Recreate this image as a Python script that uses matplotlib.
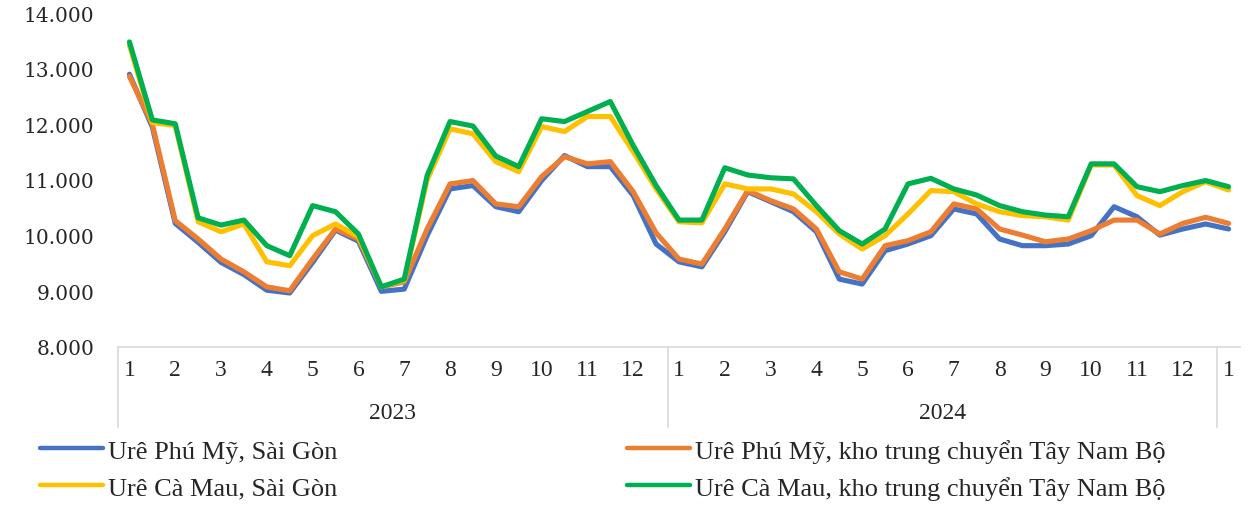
import numpy as np
import matplotlib
matplotlib.use("Agg")
import matplotlib.pyplot as plt
import matplotlib.transforms as mtransforms
from matplotlib.ticker import FuncFormatter

# gia ure (dong/kg), 2 ky moi thang, 1/2023 -> 1/2025
pm_sg = [12900, 11950, 10220, 9880, 9520, 9300, 9020, 8970, 9520, 10100,
         9900, 9000, 9040, 10000, 10840, 10900, 10520, 10430, 10990, 11440,
         11240, 11240, 10720, 9850, 9530, 9440, 10070, 10790, 10610, 10430,
         10070, 9220, 9130, 9730, 9850, 10000, 10480, 10390, 9940, 9820,
         9820, 9850, 10000, 10520, 10340, 10010, 10120, 10210, 10120]
pm_tnb = [12860, 12000, 10270, 9940, 9580, 9350, 9080, 9010, 9580, 10120,
          9940, 9080, 9170, 10120, 10930, 10990, 10570, 10520, 11060, 11420,
          11290, 11330, 10790, 10050, 9580, 9490, 10120, 10810, 10630, 10480,
          10120, 9350, 9220, 9820, 9910, 10070, 10570, 10480, 10120, 10010,
          9890, 9940, 10090, 10280, 10280, 10030, 10220, 10330, 10220]
cm_sg = [13420, 12030, 11980, 10250, 10070, 10210, 9530, 9460, 10000, 10210,
         9980, 9080, 9200, 11000, 11920, 11830, 11330, 11150, 11960, 11870,
         12140, 12140, 11510, 10840, 10250, 10230, 10930, 10840, 10840, 10750,
         10430, 10030, 9760, 10000, 10390, 10810, 10790, 10570, 10430, 10360,
         10340, 10280, 11270, 11270, 10720, 10540, 10790, 10970, 10820]
cm_tnb = [13480, 12080, 12010, 10320, 10190, 10280, 9820, 9640, 10540, 10430,
          10030, 9080, 9220, 11080, 12050, 11970, 11430, 11240, 12100, 12050,
          12230, 12410, 11620, 10900, 10280, 10280, 11220, 11090, 11040, 11020,
          10540, 10090, 9850, 10120, 10930, 11030, 10840, 10730, 10540, 10430,
          10370, 10340, 11290, 11290, 10880, 10790, 10900, 10990, 10880]

months = [str(m) for m in range(1, 13)] * 2 + ["1"]
years = ["2023", "2024"]

names = ["Urê Phú Mỹ, Sài Gòn",
         "Urê Phú Mỹ, kho trung chuyển Tây Nam Bộ",
         "Urê Cà Mau, Sài Gòn",
         "Urê Cà Mau, kho trung chuyển Tây Nam Bộ"]
colors = ["#4472C4", "#ED7D31", "#FFC000", "#00B050"]

serif = ["Liberation Serif", "DejaVu Serif"]

fig = plt.figure(figsize=(12.56, 5.06), dpi=100)
ax = fig.add_axes([118/1256, 1-348/506, (1240-118)/1256, (348-14)/506])

x = np.arange(len(pm_sg))
lines = []
for data, c, n in zip([pm_sg, pm_tnb, cm_sg, cm_tnb], colors, names):
    ln, = ax.plot(x, data, color=c, lw=3.7, label=n, solid_joinstyle="round",
                  solid_capstyle="round")
    lines.append(ln)

ax.set_ylim(8000, 14000)
ax.set_xlim(-0.5, len(x) - 0.5)
ax.set_yticks(np.arange(8000, 14001, 1000))
ax.yaxis.set_major_formatter(FuncFormatter(lambda v, p: f"{int(v):,}".replace(",", ".")))
for lab in ax.get_yticklabels():
    lab.set_family("DejaVu Serif")
    lab.set_fontsize(14.5)
    lab.set_color("#262626")
ax.tick_params(axis="y", length=0, pad=17)

ax.set_xticks(x[::2])
ax.set_xticklabels(months, family=serif, fontsize=17, color="#262626")
ax.tick_params(axis="x", length=0, pad=9)

for s in ["top", "right", "left"]:
    ax.spines[s].set_visible(False)
ax.spines["bottom"].set_color("#D9D9D9")
ax.spines["bottom"].set_linewidth(1.2)

# duong chia nam va nhan nam
trans = mtransforms.blended_transform_factory(ax.transData, ax.transAxes)
for xd in [-0.5, 23.5, 47.5]:
    ax.plot([xd, xd], [0, -0.24], transform=trans, color="#D9D9D9", lw=1.2,
            clip_on=False)
for i, yr in enumerate(years):
    ax.text(11.5 + 24 * i, -0.195, yr, transform=trans, ha="center", va="center",
            family=serif, fontsize=17, color="#262626")

handles = [lines[0], lines[2], lines[1], lines[3]]
leg = fig.legend(handles, [h.get_label() for h in handles], ncol=2,
                 loc="upper left", bbox_to_anchor=(29/1256, 1-429/506),
                 frameon=False, prop={"family": serif, "size": 19},
                 handlelength=2.4, handletextpad=0.2, columnspacing=10.95,
                 labelspacing=0.5, borderaxespad=0)
for t in leg.get_texts():
    t.set_color("#262626")
for h in leg.legend_handles:
    h.set_linewidth(3.2)

fig.savefig("out.png", dpi=100)
